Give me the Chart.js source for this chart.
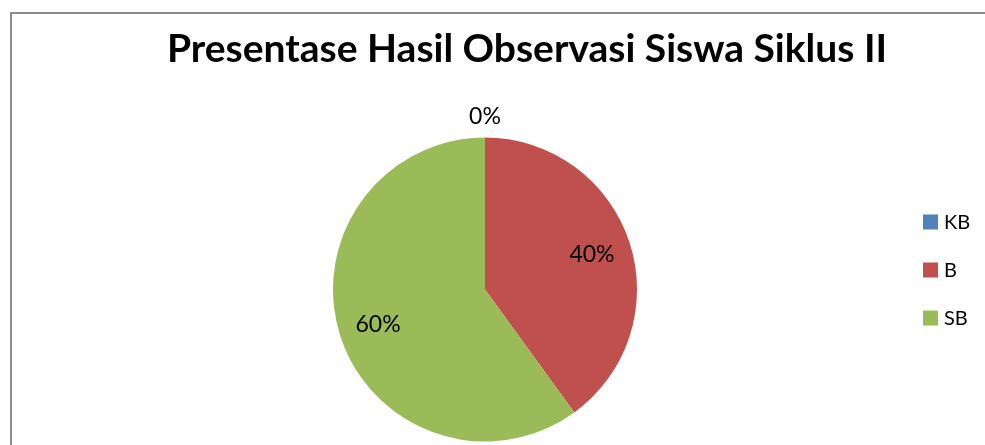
<!DOCTYPE html>
<html>
<head>
<meta charset="utf-8">
<script src="https://cdn.jsdelivr.net/npm/chart.js@4.4.1/dist/chart.umd.min.js"></script>
<style>
  html, body { margin: 0; padding: 0; background: #fff; }
  body { position: relative; width: 985px; height: 445px; overflow: hidden; }
  .frame {
    position: absolute; left: 10px; top: 12px; width: 1000px; height: 460px;
    border-left: 2px solid #8c8c8c; border-top: 2px solid #8c8c8c;
  }
  #wrap { position: absolute; left: 0; top: 0; width: 985px; height: 445px; }
</style>
</head>
<body>
<div class="frame"></div>
<div id="wrap"><canvas id="pie"></canvas></div>
<script>
const chartTitle = 'Presentase Hasil Observasi Siswa Siklus II';
const categories = ['KB', 'B', 'SB'];
const percentages = [0, 40, 60];
const sliceColors = ['#4F81BD', '#C0504D', '#9BBB59'];

// title, percent labels and the legend on the right, office style
const officeDecor = {
  id: 'officeDecor',
  afterDatasetsDraw(chart, args, opts) {
    const ctx = chart.ctx;
    const meta = chart.getDatasetMeta(0);
    const values = chart.data.datasets[0].data;
    const total = values.reduce((a, b) => a + b, 0);

    ctx.save();
    ctx.fillStyle = '#000';

    // title
    ctx.font = 'bold 39px Lato';
    ctx.textAlign = 'center';
    ctx.textBaseline = 'alphabetic';
    ctx.fillText(chartTitle, opts.titleX, opts.titleY);

    // percent labels
    ctx.font = '23px Lato';
    ctx.textBaseline = 'middle';
    meta.data.forEach((arc, i) => {
      const p = arc.getProps(['x', 'y', 'startAngle', 'endAngle', 'outerRadius'], true);
      const mid = (p.startAngle + p.endAngle) / 2;
      const small = p.endAngle - p.startAngle < 0.2;
      const r = p.outerRadius * (small ? 1.14 : 0.74);
      const pct = Math.round(values[i] / total * 100) + '%';
      ctx.fillText(pct, p.x + Math.cos(mid) * r, p.y + Math.sin(mid) * r);
    });

    // legend
    ctx.font = '20px Lato';
    ctx.textAlign = 'left';
    chart.data.labels.forEach((lbl, i) => {
      const cy = opts.legendY + i * opts.legendGap;
      ctx.fillStyle = chart.data.datasets[0].backgroundColor[i];
      ctx.fillRect(opts.legendX, cy - 7.5, 15, 15);
      ctx.fillStyle = '#000';
      ctx.fillText(lbl, opts.legendX + 21, cy + 1);
    });
    ctx.restore();
  }
};

new Chart(document.getElementById('pie'), {
  type: 'pie',
  data: {
    labels: categories,
    datasets: [{
      data: percentages,
      backgroundColor: sliceColors,
      borderWidth: 0
    }]
  },
  options: {
    responsive: true,
    maintainAspectRatio: false,
    animation: false,
    layout: { padding: { left: 333, right: 348, top: 137.5, bottom: 3.5 } },
    plugins: {
      legend: { display: false },
      title: { display: false },
      tooltip: { enabled: false },
      officeDecor: { titleX: 527, titleY: 62, legendX: 923, legendY: 222, legendGap: 48 }
    }
  },
  plugins: [officeDecor]
});
</script>
</body>
</html>
